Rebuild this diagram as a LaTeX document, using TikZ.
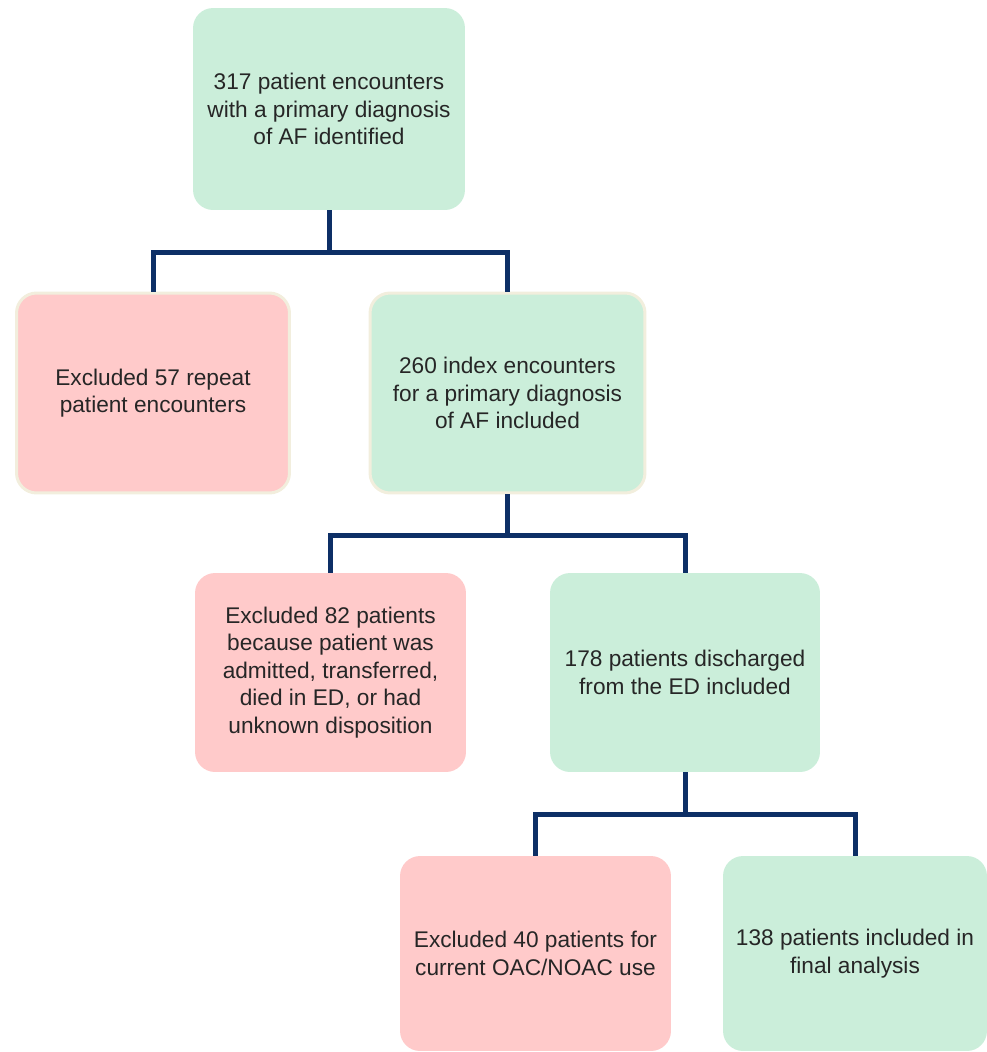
\documentclass[tikz,border=0pt]{standalone}
\usepackage{fontspec}
\setmainfont{Liberation Sans}
\usetikzlibrary{positioning}
\definecolor{okgreen}{HTML}{CBEEDA}
\definecolor{outred}{HTML}{FFCACA}
\definecolor{linkblue}{HTML}{0D2F66}
\definecolor{rimcream}{HTML}{F2EEDD}
\definecolor{txtgray}{HTML}{262626}
\begin{document}
\begin{tikzpicture}[x=0.02cm, y=-0.02cm,
        box/.style={rounded corners=0.4cm, inner sep=0pt, align=center,
            text=txtgray, font=\fontsize{12.9}{15.6}\selectfont},
        okbox/.style={box, fill=okgreen},
        outbox/.style={box, fill=outred},
        rim/.style={draw=rimcream, line width=0.06cm},
        link/.style={draw=linkblue, line width=0.1cm}]
        \useasboundingbox (0, 0) rectangle (987, 1052);

        % stage 1
        \node[okbox, minimum width=5.44cm, minimum height=4.04cm] (found) at (329, 109)
            {317 patient encounters\\with a primary diagnosis\\of AF identified};

        % stage 2
        \node[outbox, rim, minimum width=5.46cm, minimum height=4.0cm] (repeat) at (153, 393)
            {Excluded 57 repeat\\patient encounters};
        \node[okbox, rim, minimum width=5.5cm, minimum height=4.0cm] (index) at (507.5, 393)
            {260 index encounters\\for a primary diagnosis\\of AF included};

        % stage 3
        \node[outbox, minimum width=5.42cm, minimum height=3.98cm] (admitted) at (330.5, 672.5)
            {Excluded 82 patients\\because patient was\\admitted, transferred,\\died in ED, or had\\unknown disposition};
        \node[okbox, minimum width=5.4cm, minimum height=3.98cm] (discharged) at (685, 672.5)
            {178 patients discharged\\from the ED included};

        % stage 4
        \node[outbox, minimum width=5.42cm, minimum height=3.9cm] (oac) at (535.5, 953.5)
            {Excluded 40 patients for\\current OAC/NOAC use};
        \node[okbox, minimum width=5.28cm, minimum height=3.9cm] (final) at (855, 953.5)
            {138 patients included in\\final analysis};

        \draw[link] (found.south) -- ++(0, 42) -| (repeat.north);
        \draw[link] (found.south) -- ++(0, 42) -| (index.north);
        \draw[link] (index.south) -- ++(0, 41) -| (admitted.north);
        \draw[link] (index.south) -- ++(0, 41) -| (discharged.north);
        \draw[link] (discharged.south) -- ++(0, 42) -| (oac.north);
        \draw[link] (discharged.south) -- ++(0, 42) -| (final.north);
    \end{tikzpicture}
\end{document}
